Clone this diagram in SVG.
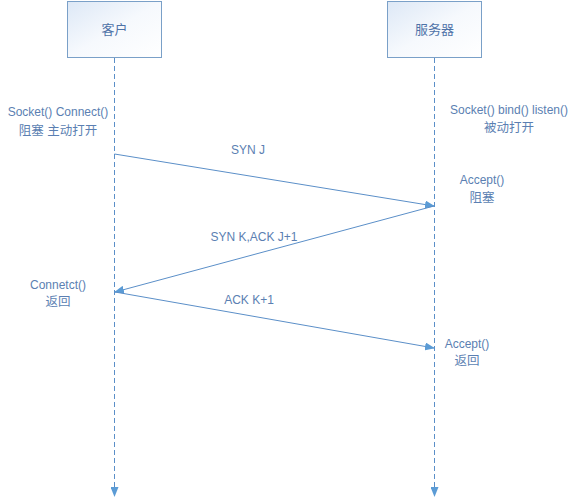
<svg xmlns="http://www.w3.org/2000/svg" width="577" height="501" viewBox="0 0 577 501">
<defs>
<linearGradient id="g" x1="0" y1="0" x2="1" y2="1">
<stop offset="0" stop-color="#dde8f6"/>
<stop offset="0.5" stop-color="#f6f9fd"/>
<stop offset="1" stop-color="#ffffff"/>
</linearGradient>
<marker id="ah" markerWidth="10" markerHeight="8" refX="9" refY="4" orient="auto" markerUnits="userSpaceOnUse">
<path d="M0,0 L10,4 L0,8 Z" fill="#5b9bd5"/>
</marker>
</defs>
<style>
.box{fill:url(#g);stroke:#7aa0c8;stroke-width:1}
.life{stroke:#5b8fc8;stroke-width:1;stroke-dasharray:5,3;fill:none}
.msg{stroke:#5b8fc8;stroke-width:1;fill:none}
text{font-family:"Liberation Sans","Noto Sans CJK SC",sans-serif;font-size:12px;fill:#5b7fb2;text-anchor:middle}
.c{font-size:12.5px}
.t{font-size:13px;fill:#4f73a8}
</style>
<rect width="577" height="501" fill="#ffffff"/>
<g id="client">
<rect class="box" x="67.5" y="1.5" width="94" height="56"/>
<text class="t" x="114.5" y="34">客户</text>
</g>
<g id="server">
<rect class="box" x="387.5" y="1.5" width="94" height="56"/>
<text class="t" x="434.5" y="34">服务器</text>
</g>
<g id="connectors">
<line class="life" x1="114.5" y1="58" x2="114.5" y2="496" marker-end="url(#ah)"/>
<line class="life" x1="434.5" y1="58" x2="434.5" y2="496" marker-end="url(#ah)"/>
<line class="msg" x1="114.5" y1="154" x2="434" y2="206" marker-end="url(#ah)"/>
<line class="msg" x1="434" y1="206" x2="115" y2="292" marker-end="url(#ah)"/>
<line class="msg" x1="115" y1="292" x2="434" y2="348" marker-end="url(#ah)"/>
</g>
<g id="labels">
<text x="248" y="154">SYN J</text>
<text x="254" y="241">SYN K,ACK J+1</text>
<text x="249" y="304">ACK K+1</text>
<text x="58" y="116">Socket() Connect()</text>
<text class="c" x="58" y="135">阻塞 主动打开</text>
<text x="509" y="114">Socket() bind() listen()</text>
<text class="c" x="509" y="132">被动打开</text>
<text x="482" y="184">Accept()</text>
<text class="c" x="482" y="202">阻塞</text>
<text x="58" y="289">Connetct()</text>
<text class="c" x="58" y="306">返回</text>
<text x="467" y="348">Accept()</text>
<text class="c" x="467" y="365">返回</text>
</g>
</svg>
